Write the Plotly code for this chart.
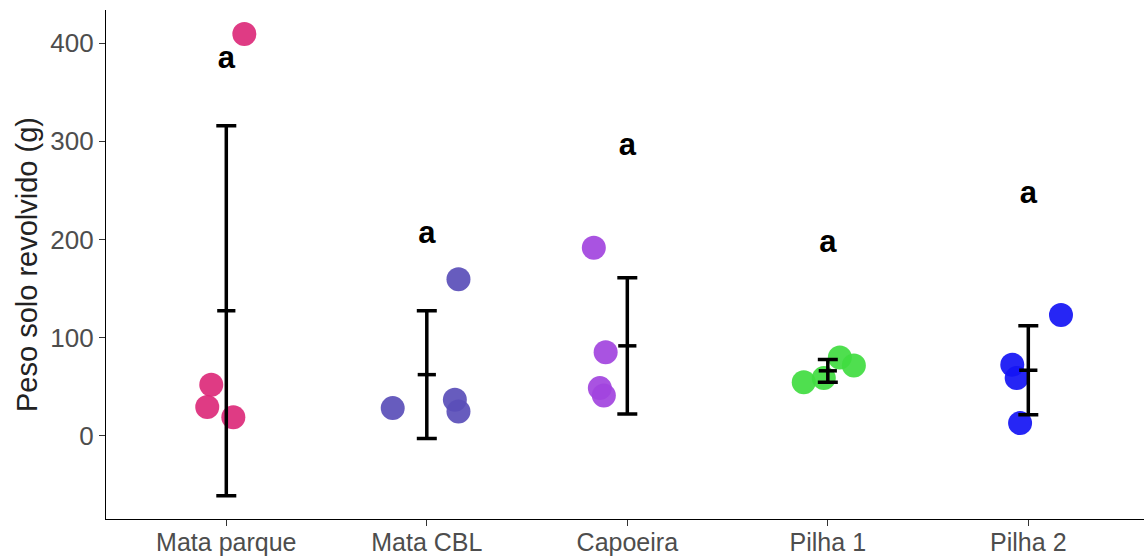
import numpy as np
import plotly.graph_objects as go

categories = ["Mata parque", "Mata CBL", "Capoeira", "Pilha 1", "Pilha 2"]
values = [
    [409.5, 51.7, 29.0, 18.7],
    [27.9, 159.4, 36.4, 24.5],
    [191.6, 85.0, 48.3, 40.8],
    [54.4, 58.5, 79.5, 71.4],
    [123.0, 72.1, 58.5, 12.6],
]
x_jitter = [
    [0.09, -0.075, -0.095, 0.035],
    [-0.17, 0.158, 0.14, 0.158],
    [-0.167, -0.108, -0.137, -0.117],
    [-0.12, -0.02, 0.06, 0.13],
    [0.163, -0.08, -0.058, -0.041],
]
letters = ["a", "a", "a", "a", "a"]
letter_y = [383, 204, 294, 195, 245]
colors = ["#DC2A7A", "#5A4EB8", "#A244DE", "#40DC40", "#1414F4"]

fig = go.Figure()
xpos = list(range(1, len(categories) + 1))

for i, cat in enumerate(categories):
    fig.add_trace(go.Scatter(
        x=[xpos[i] + j for j in x_jitter[i]], y=values[i], mode="markers",
        marker=dict(size=24, color=colors[i], opacity=0.92, line=dict(width=0)),
        showlegend=False, name=cat))

means = [float(np.mean(v)) for v in values]
sds = [float(np.std(v, ddof=1)) for v in values]

fig.add_trace(go.Scatter(
    x=xpos, y=means, mode="markers",
    marker=dict(symbol="line-ew", size=13, color="black", line=dict(width=3.5, color="black")),
    error_y=dict(type="data", array=sds, visible=True, color="black", thickness=3.5, width=10),
    showlegend=False))

fig.add_trace(go.Scatter(
    x=xpos, y=letter_y, mode="text", text=letters,
    textfont=dict(family="Liberation Sans, Arial", size=31, color="black", weight="bold"),
    textposition="middle center", showlegend=False))

fig.update_layout(
    width=1144, height=560,
    margin=dict(l=106, r=0, t=10, b=41),
    plot_bgcolor="white", paper_bgcolor="white",
    font=dict(family="Liberation Sans, Arial", color="#4D4D4D"),
)
fig.update_xaxes(
    range=[0.4, 5.577], tickmode="array", tickvals=xpos, ticktext=categories,
    showgrid=False, zeroline=False, showline=True, linecolor="black", linewidth=1.3,
    ticks="outside", ticklen=6, tickcolor="#333333", tickwidth=1.2,
    tickfont=dict(size=25, color="#4D4D4D"), automargin=False, ticklabelstandoff=-5,
)
fig.update_yaxes(
    range=[-85.2, 434], tickvals=[0, 100, 200, 300, 400],
    showgrid=False, zeroline=False, showline=True, linecolor="black", linewidth=1.3,
    ticks="outside", ticklen=6, tickcolor="#333333", tickwidth=1.2,
    tickfont=dict(size=26, color="#4D4D4D"), automargin=False,
    title=dict(text="Peso solo revolvido (g)", font=dict(size=29, color="#222222"), standoff=4),
)

fig.write_html("out.html", config={"displayModeBar": False},
               post_script="document.body.style.margin='0';document.body.style.overflow='hidden';")
